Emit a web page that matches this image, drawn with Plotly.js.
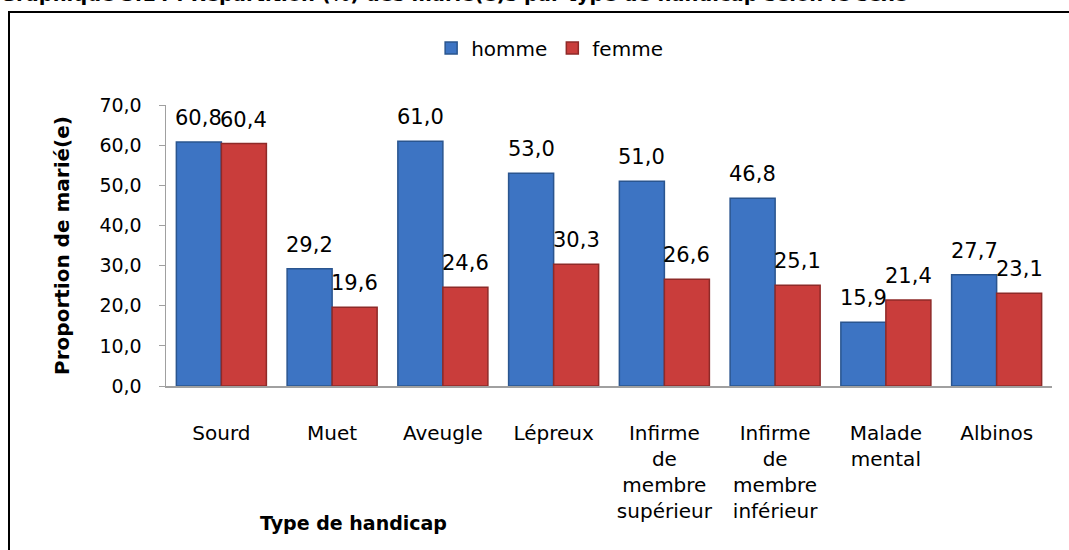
<!DOCTYPE html>
<html>
<head>
<meta charset="utf-8">
<script src="https://cdn.plot.ly/plotly-3.0.1.min.js"></script>
<style>
html,body{margin:0;padding:0;background:#fff;}
#chart{width:1069px;height:550px;}
</style>
</head>
<body>
<div id="chart"></div>
<script>
// ---- data ----
const categories = ["Sourd", "Muet", "Aveugle", "Lépreux", "Infirme de membre supérieur", "Infirme de membre inférieur", "Malade mental", "Albinos"];
const tickLabels = ["Sourd", "Muet", "Aveugle", "Lépreux", "Infirme<br>de<br>membre<br>supérieur", "Infirme<br>de<br>membre<br>inférieur", "Malade<br>mental", "Albinos"];
const homme = [60.8, 29.2, 61.0, 53.0, 51.0, 46.8, 15.9, 27.7];
const femme = [60.4, 19.6, 24.6, 30.3, 26.6, 25.1, 21.4, 23.1];
const yTicks = [0, 10, 20, 30, 40, 50, 60, 70];
const yTickText = ["0,0", "10,0", "20,0", "30,0", "40,0", "50,0", "60,0", "70,0"];
const titleText = "Graphique 3.14 : Répartition (%) des marié(e)s par type de handicap selon le sexe";
const xTitle = "Type de handicap";
const yTitle = "Proportion de marié(e)";

const FONT = "'DejaVu Sans', 'Open Sans', sans-serif";
const fmt = v => v.toFixed(1).replace(".", ",");

const traces = [
  {
    type: "bar", name: "homme", x: categories, y: homme,
    marker: {color: "#3d74c3", line: {color: "#2a558f", width: 1.5}},
    hoverinfo: "none"
  },
  {
    type: "bar", name: "femme", x: categories, y: femme,
    marker: {color: "#c93d3b", line: {color: "#8e2a28", width: 1.5}},
    hoverinfo: "none"
  }
];

const annotations = [];
homme.forEach((v, i) => annotations.push({
  x: categories[i], y: v, xref: "x", yref: "y", xshift: -22.5, yshift: 10,
  yanchor: "bottom", showarrow: false, text: fmt(v),
  font: {family: FONT, size: 21, color: "#000"}
}));
femme.forEach((v, i) => annotations.push({
  x: categories[i], y: v, xref: "x", yref: "y", xshift: 22.5, yshift: 10,
  yanchor: "bottom", showarrow: false, text: fmt(v),
  font: {family: FONT, size: 21, color: "#000"}
}));
annotations.push({
  xref: "paper", yref: "paper", x: 0.212, y: -0.487, xanchor: "center", yanchor: "middle",
  showarrow: false, text: "<b>" + xTitle + "</b>",
  font: {family: FONT, size: 19, color: "#000"}
});
annotations.push({
  xref: "paper", yref: "paper", x: -0.19, y: 1.392, xanchor: "left", yanchor: "middle",
  showarrow: false, text: "<b>" + titleText + "</b>",
  font: {family: FONT, size: 19.5, color: "#000"}
});

const layout = {
  width: 1069, height: 550,
  margin: {l: 166, r: 17, t: 105, b: 164},
  paper_bgcolor: "#fff", plot_bgcolor: "#fff",
  barmode: "group", bargap: 0.187, bargroupgap: 0,
  showlegend: true,
  legend: {
    orientation: "h", x: 0.433, xanchor: "center", y: 1.203, yanchor: "middle",
    font: {family: FONT, size: 20, color: "#000"}, itemwidth: 30, traceorder: "normal"
  },
  xaxis: {
    type: "category", tickmode: "array", tickvals: categories, ticktext: tickLabels,
    showline: true, linecolor: "#a0a0a0", linewidth: 2, ticks: "",
    showgrid: false, zeroline: false, ticklabelstandoff: 28,
    tickfont: {family: FONT, size: 20, color: "#000"}
  },
  yaxis: {
    range: [0, 70], tickmode: "array", tickvals: yTicks, ticktext: yTickText,
    showline: true, linecolor: "#a0a0a0", linewidth: 1.5, ticks: "outside", ticklen: 6,
    tickcolor: "#a0a0a0", showgrid: false, zeroline: false, ticklabelstandoff: 13,
    tickfont: {family: FONT, size: 19, color: "#000"},
    title: {text: "<b>" + yTitle + "</b>", standoff: 24, font: {family: FONT, size: 20, color: "#000"}}
  },
  shapes: [{
    type: "rect", xref: "paper", yref: "paper",
    x0: -0.1772, x1: 1.1, y0: -1, y1: 1.331,
    line: {color: "#000", width: 2}, fillcolor: "rgba(0,0,0,0)"
  }],
  annotations: annotations
};

Plotly.newPlot("chart", traces, layout, {staticPlot: true, displayModeBar: false});
</script>
</body>
</html>
